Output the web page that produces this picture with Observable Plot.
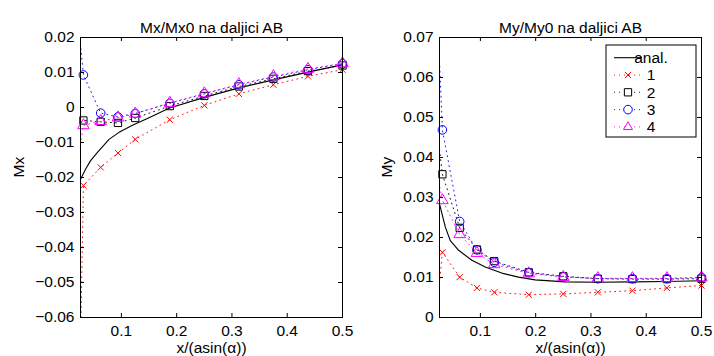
<!DOCTYPE html>
<html><head><meta charset="utf-8">
<script src="https://cdn.jsdelivr.net/npm/d3@7"></script>
<script src="https://cdn.jsdelivr.net/npm/@observablehq/plot@0.6"></script>
<style>
body{margin:0;background:#fff;}
#row{display:flex;width:714px;height:356px;overflow:hidden;}
#row svg{display:block;flex:none;}
</style>
</head><body><div id="row"></div>
<script>
// ---------- data ----------
const xs = [0.03125, 0.0625, 0.09375, 0.125, 0.1875, 0.25, 0.3125, 0.375, 0.4375, 0.5];
const leadX = 0; // dotted lines start off-axis (clipped)

const xTicks = [0.1, 0.2, 0.3, 0.4, 0.5];
const xTickLabels = ["0.1", "0.2", "0.3", "0.4", "0.5"];
const xDomain = [0.026, 0.5];
const xLabel = "x/(asin(\u03b1))";

// Left panel: Mx
const mxTitle = "Mx/Mx0 na daljici AB";
const mxYLabel = "Mx";
const mxYTicks = [-0.06, -0.05, -0.04, -0.03, -0.02, -0.01, 0, 0.01, 0.02];
const mxYTickLabels = ["\u22120.06", "\u22120.05", "\u22120.04", "\u22120.03", "\u22120.02", "\u22120.01", "0", "0.01", "0.02"];
const mxAnalX = [0.026, 0.0356, 0.0446, 0.0567, 0.0776, 0.0957, 0.12, 0.15, 0.186, 0.25, 0.3125, 0.375, 0.4375, 0.5];
const mxAnalY = [-0.0205, -0.0175, -0.0151, -0.0128, -0.0091, -0.0071, -0.0051, -0.0029, -0.0002, 0.0029, 0.0056, 0.0079, 0.0101, 0.0122];
const mx1 = [-0.0223, -0.0171, -0.0130, -0.0091, -0.0035, 0.0006, 0.0039, 0.0065, 0.0089, 0.0108];
const mx2 = [-0.0037, -0.0041, -0.0044, -0.0030, 0.0004, 0.0033, 0.0060, 0.0082, 0.0104, 0.0120];
const mx3 = [0.0093, -0.0016, -0.0027, -0.0017, 0.0012, 0.0039, 0.0065, 0.0087, 0.0108, 0.0125];
const mx4 = [-0.0051, -0.0039, -0.0029, -0.0018, 0.0013, 0.0040, 0.0066, 0.0089, 0.0110, 0.0126];
const mxLead = [-0.30, -0.008, 0.061, -0.036];

// Right panel: My
const myTitle = "My/My0 na daljici AB";
const myYLabel = "My";
const myYTicks = [0, 0.01, 0.02, 0.03, 0.04, 0.05, 0.06, 0.07];
const myYTickLabels = ["0", "0.01", "0.02", "0.03", "0.04", "0.05", "0.06", "0.07"];
const myAnalX = [0.026, 0.0366, 0.0456, 0.0606, 0.0846, 0.1087, 0.1387, 0.169, 0.199, 0.253, 0.3125, 0.375, 0.4375, 0.5];
const myAnalY = [0.0284, 0.0226, 0.0192, 0.0168, 0.0143, 0.0126, 0.0111, 0.0101, 0.0094, 0.0089, 0.0088, 0.0089, 0.0090, 0.0092];
const my1 = [0.0163, 0.0101, 0.0074, 0.0063, 0.0057, 0.0059, 0.0063, 0.0067, 0.0074, 0.0080];
const my2 = [0.0358, 0.0224, 0.0170, 0.0141, 0.0113, 0.0103, 0.0097, 0.0096, 0.0096, 0.0097];
const my3 = [0.0469, 0.0240, 0.0169, 0.0138, 0.0112, 0.0102, 0.0097, 0.0097, 0.0097, 0.0100];
const my4 = [0.0293, 0.0208, 0.0161, 0.0133, 0.0110, 0.0101, 0.0098, 0.0098, 0.0098, 0.0100];
const myLead = [-0.030, 0.073, 0.149, 0.051];

// series styling
const seriesNames = ["1", "2", "3", "4"];
const seriesColors = ["#ff0000", "#000000", "#0000ff", "#ff00ff"];
const seriesSymbols = ["times", "square", "circle", "triangle"];
const seriesR = [2.9, 4.1, 4.3, 4.3];
const analName = "anal.";

const FONT = "'Liberation Sans', Arial, Helvetica, sans-serif";
const DOTS = "1,4";

function panel({title, ylabel, yDomain, yTicks, yTickLabels, analX, analY, values, leads, mL, mR, ylabelDx}) {
  const W = 357, H = 356, mT = 37, mB = 39;
  const innerW = W - mL - mR, innerH = H - mT - mB;
  const marks = [];
  marks.push(Plot.line(analX.map((x, i) => ({x, y: analY[i]})), {x: "x", y: "y", stroke: "black", strokeWidth: 1.1, clip: true}));
  values.forEach((vals, k) => {
    const pts = xs.map((x, i) => ({x, y: vals[i]}));
    marks.push(Plot.line([{x: leadX, y: leads[k]}, ...pts], {x: "x", y: "y", stroke: seriesColors[k], strokeWidth: 0.9, strokeDasharray: DOTS, clip: true}));
    marks.push(Plot.dot(pts, {x: "x", y: "y", symbol: seriesSymbols[k], r: seriesR[k], stroke: seriesColors[k], fill: "none", strokeWidth: 1}));
  });
  // inward ticks on all four sides
  marks.push(Plot.tickX(xTicks, {x: d => d, insetTop: innerH - 4, stroke: "black"}));
  marks.push(Plot.tickX(xTicks, {x: d => d, insetBottom: innerH - 4, stroke: "black"}));
  marks.push(Plot.tickY(yTicks, {y: d => d, insetRight: innerW - 4, stroke: "black"}));
  marks.push(Plot.tickY(yTicks, {y: d => d, insetLeft: innerW - 4, stroke: "black"}));
  marks.push(Plot.axisX(xTicks, {tickSize: 0, tickPadding: 7, tickFormat: d => xTickLabels[xTicks.indexOf(d)], label: null, fontSize: 15.5}));
  marks.push(Plot.axisY(yTicks, {tickSize: 0, tickPadding: 6, tickFormat: d => yTickLabels[yTicks.indexOf(d)], label: null, fontSize: 15.5}));
  marks.push(Plot.frame({stroke: "black", strokeWidth: 1}));
  marks.push(Plot.text([title], {text: d => d, frameAnchor: "top", dy: -16, fontSize: 15.5, fill: "black"}));
  marks.push(Plot.text([xLabel], {text: d => d, frameAnchor: "bottom", dy: 35, fontSize: 15.5, fill: "black"}));
  marks.push(Plot.text([ylabel], {text: d => d, frameAnchor: "left", dx: ylabelDx, rotate: -90, fontSize: 15.5, fill: "black"}));
  return Plot.plot({
    width: W, height: H,
    marginLeft: mL, marginRight: mR, marginTop: mT, marginBottom: mB,
    x: {domain: xDomain, axis: null},
    y: {domain: yDomain, axis: null},
    style: {fontFamily: FONT, fontSize: "15.5px", color: "black", background: "white", overflow: "visible"},
    marks
  });
}

const left = panel({title: mxTitle, ylabel: mxYLabel, yDomain: [-0.06, 0.02], yTicks: mxYTicks, yTickLabels: mxYTickLabels,
  analX: mxAnalX, analY: mxAnalY, values: [mx1, mx2, mx3, mx4], leads: mxLead, mL: 80, mR: 15, ylabelDx: -61});
const right = panel({title: myTitle, ylabel: myYLabel, yDomain: [0, 0.07], yTicks: myYTicks, yTickLabels: myYTickLabels,
  analX: myAnalX, analY: myAnalY, values: [my1, my2, my3, my4], leads: myLead, mL: 82, mR: 13, ylabelDx: -52});

document.getElementById("row").append(left, right);

// legend (MATLAB-style box) in right panel
{
  const svg = d3.select(right);
  const g = svg.append("g").attr("font-family", FONT).attr("font-size", 15.5);
  const bx = 249, by = 45, bw = 90, bh = 92;
  g.append("rect").attr("x", bx).attr("y", by).attr("width", bw).attr("height", bh)
    .attr("fill", "white").attr("stroke", "black").attr("stroke-width", 1);
  const names = [analName, ...seriesNames];
  names.forEach((name, i) => {
    const cy = by + 12.7 + i * 17.3;
    const x0 = bx + 8, x1 = bx + 36, xm = (x0 + x1) / 2;
    if (i === 0) {
      g.append("line").attr("x1", x0).attr("x2", x1).attr("y1", cy).attr("y2", cy).attr("stroke", "black").attr("stroke-width", 1.1);
    } else {
      const k = i - 1;
      g.append("line").attr("x1", x0).attr("x2", x1).attr("y1", cy).attr("y2", cy)
        .attr("stroke", seriesColors[k]).attr("stroke-width", 0.9).attr("stroke-dasharray", DOTS);
      const sym = {times: d3.symbolTimes, square: d3.symbolSquare, circle: d3.symbolCircle, triangle: d3.symbolTriangle2}[seriesSymbols[k]];
      const r = seriesR[k];
      g.append("path").attr("transform", `translate(${xm},${cy})`)
        .attr("d", d3.symbol(sym, Math.PI * r * r)())
        .attr("fill", "white").attr("stroke", seriesColors[k]).attr("stroke-width", 1);
    }
    g.append("text").attr("x", bx + 45).attr("y", cy).attr("dy", "0.35em").attr("fill", "black").text(name);
  });
}
</script></body></html>
